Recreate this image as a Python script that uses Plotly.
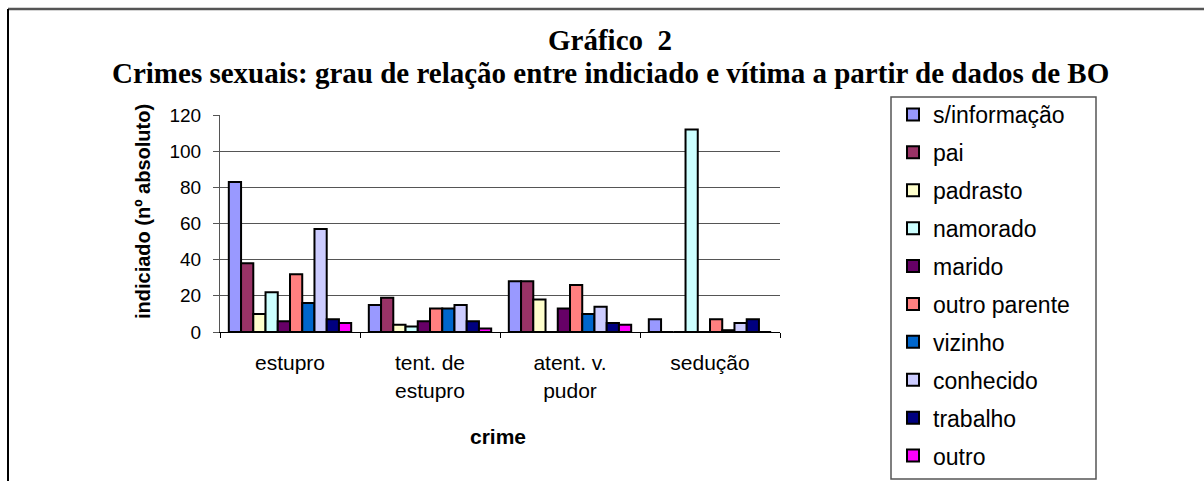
import plotly.graph_objects as go

crimes = ["estupro", "tent. de<br>estupro", "atent. v.<br>pudor", "sedução"]

s_informacao = [83, 15, 28, 7]
pai = [38, 19, 28, 0]
padrasto = [10, 4, 18, 0]
namorado = [22, 3, 0, 112]
marido = [6, 6, 13, 0]
outro_parente = [32, 13, 26, 7]
vizinho = [16, 13, 10, 1]
conhecido = [57, 15, 14, 5]
trabalho = [7, 6, 5, 7]
outro = [5, 2, 4, 0]

series = [
    ("s/informação", s_informacao, "#9999FF"),
    ("pai", pai, "#993366"),
    ("padrasto", padrasto, "#FFFFCC"),
    ("namorado", namorado, "#CCFFFF"),
    ("marido", marido, "#660066"),
    ("outro parente", outro_parente, "#FF8080"),
    ("vizinho", vizinho, "#0066CC"),
    ("conhecido", conhecido, "#CCCCFF"),
    ("trabalho", trabalho, "#000080"),
    ("outro", outro, "#FF00FF"),
]

sans = "Liberation Sans, Arial, sans-serif"
serif = "Liberation Serif, Times New Roman, serif"

fig = go.Figure()
for name, vals, col in series:
    fig.add_trace(go.Bar(x=crimes, y=vals, name=name, legendgroup=name,
                         marker=dict(color=col, line=dict(color="black", width=2))))

# pixel -> paper helpers (plot area 220..780 x, 115..332 y)
def px(x):
    return (x - 220) / 560.0

def py(y):
    return (332 - y) / 217.0

fig.update_layout(
    width=1204, height=481,
    margin=dict(l=220, r=424, t=115, b=149),
    paper_bgcolor="white", plot_bgcolor="white",
    barmode="group", bargap=0.126, bargroupgap=0,
    font=dict(family=sans, color="black"),
    showlegend=True,
    legend=dict(x=px(893), y=py(93), xanchor="left", yanchor="top",
                font=dict(size=23, family=sans), tracegroupgap=5, maxheight=460,
                bgcolor="rgba(0,0,0,0)", borderwidth=0, traceorder="grouped"),
    xaxis=dict(showline=True, linecolor="black", linewidth=1, ticks="outside",
               tickson="boundaries", ticklen=5, tickcolor="black",
               tickfont=dict(size=21), ticklabelstandoff=12, showgrid=False),
    yaxis=dict(range=[0, 120], dtick=20, showline=True, linecolor="#555", linewidth=1,
               ticks="outside", ticklen=6, tickcolor="#555", tickfont=dict(size=19),
               ticklabelstandoff=8, showgrid=True, gridcolor="#555", gridwidth=1,
               zeroline=False),
    shapes=[
        dict(type="rect", xref="paper", yref="paper", x0=px(891), x1=px(1096),
             y0=py(479), y1=py(97), line=dict(color="#555", width=1.5)),
        dict(type="line", xref="paper", yref="paper", x0=px(8), x1=px(1215),
             y0=py(9), y1=py(9), line=dict(color="#555", width=2.5)),
        dict(type="line", xref="paper", yref="paper", x0=px(8), x1=px(8),
             y0=py(9), y1=py(495), line=dict(color="black", width=2)),
    ],
    annotations=[
        dict(text="<b>Gráfico  2</b>", xref="paper", yref="paper", x=px(610), y=py(40),
             xanchor="center", yanchor="middle", showarrow=False,
             font=dict(family=serif, size=29)),
        dict(text="<b>Crimes sexuais: grau de relação entre indiciado e vítima a partir de dados de BO</b>",
             xref="paper", yref="paper", x=px(610), y=py(73), xanchor="center",
             yanchor="middle", showarrow=False, font=dict(family=serif, size=29)),
        dict(text="<b>indiciado (nº absoluto)</b>", xref="paper", yref="paper",
             x=px(143), y=py(212), xanchor="center", yanchor="middle", textangle=-90,
             showarrow=False, font=dict(family=sans, size=20)),
        dict(text="<b>crime</b>", xref="paper", yref="paper", x=px(498), y=py(436),
             xanchor="center", yanchor="middle", showarrow=False,
             font=dict(family=sans, size=21)),
    ],
)

fig.write_html("out.html", config={"displayModeBar": False},
               post_script="document.body.style.margin='0';document.body.style.overflow='hidden';")
